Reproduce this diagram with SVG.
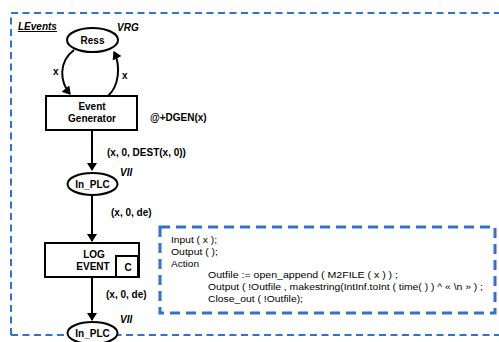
<svg xmlns="http://www.w3.org/2000/svg" width="499" height="342" viewBox="0 0 499 342">
<style>
.lbl{font-family:"Liberation Sans",Arial,sans-serif;font-weight:bold;font-size:10px;fill:#000}
.it{font-style:italic}
.code{font-family:"Liberation Sans",Arial,sans-serif;font-size:9.2px;fill:#000}
.node{fill:#fff;stroke:#000;stroke-width:2}
.conn{fill:none;stroke:#000;stroke-width:2}
</style>
<defs>
<marker id="ah" markerWidth="8" markerHeight="10" refX="7" refY="5" orient="auto" markerUnits="userSpaceOnUse" viewBox="0 0 8 10">
<path d="M0,0 L8,5 L0,10 Z" fill="#000"/>
</marker>
</defs>
<rect width="499" height="342" fill="#fff"/>
<g id="page">
<path d="M11,335 V13 H510 M11,335 H510" fill="none" stroke="#3272c9" stroke-width="2" stroke-dasharray="7,4.5"/>
<text class="lbl it" x="18" y="30" text-decoration="underline">LEvents</text>
</g>
<g id="connectors">
<path class="conn" d="M74,50 C58,62 60,82 70,94" marker-end="url(#ah)"/>
<path class="conn" d="M108,96 C119,86 121,66 114,52" marker-end="url(#ah)"/>
<path class="conn" d="M92,130 V170" marker-end="url(#ah)"/>
<path class="conn" d="M92,195 V241" marker-end="url(#ah)"/>
<path class="conn" d="M92,277 V320" marker-end="url(#ah)"/>
<text class="lbl" x="53" y="75">x</text>
<text class="lbl" x="122" y="79">x</text>
<text class="lbl" x="107" y="156">(x, 0, DEST(x, 0))</text>
<text class="lbl" x="111" y="216">(x, 0, de)</text>
<text class="lbl" x="106" y="298">(x, 0, de)</text>
</g>
<g id="ress">
<ellipse class="node" cx="92.5" cy="40" rx="25.5" ry="12"/>
<text class="lbl" x="92.5" y="43.5" text-anchor="middle">Ress</text>
<text class="lbl it" x="117" y="31">VRG</text>
</g>
<g id="event-generator">
<rect class="node" x="46" y="96" width="91" height="34"/>
<text class="lbl" x="92" y="110" text-anchor="middle">Event</text>
<text class="lbl" x="92" y="122" text-anchor="middle">Generator</text>
<text class="lbl" x="150" y="121">@+DGEN(x)</text>
</g>
<g id="in-plc-1">
<ellipse class="node" cx="92.5" cy="184" rx="25" ry="11"/>
<text class="lbl" x="92.5" y="187.5" text-anchor="middle">In_PLC</text>
<text class="lbl it" x="120" y="176">VII</text>
</g>
<g id="log-event">
<rect class="node" x="45" y="243" width="94" height="34"/>
<rect class="node" x="116" y="256" width="22" height="21" stroke-width="1.5"/>
<text class="lbl" x="94" y="258" text-anchor="middle">LOG</text>
<text class="lbl" x="93" y="270" text-anchor="middle">EVENT</text>
<text class="lbl" x="128" y="271" text-anchor="middle">C</text>
</g>
<g id="in-plc-2">
<ellipse class="node" cx="92.5" cy="333" rx="25" ry="11"/>
<text class="lbl" x="92.5" y="336.5" text-anchor="middle">In_PLC</text>
<text class="lbl it" x="120" y="323">VII</text>
</g>
<g id="code-box">
<rect x="160" y="227" width="335" height="86" fill="none" stroke="#3272c9" stroke-width="3" stroke-dasharray="10,6"/>
<text class="code" x="171" y="243" textLength="46" lengthAdjust="spacingAndGlyphs">Input ( x );</text>
<text class="code" x="171" y="255" textLength="47" lengthAdjust="spacingAndGlyphs">Output ( );</text>
<text class="code" x="171" y="267" textLength="28" lengthAdjust="spacingAndGlyphs">Action</text>
<text class="code" x="208" y="278" textLength="190" lengthAdjust="spacingAndGlyphs">Outfile := open_append ( M2FILE ( x ) ) ;</text>
<text class="code" x="208" y="290" textLength="275" lengthAdjust="spacingAndGlyphs">Output ( !Outfile , makestring(IntInf.toInt ( time( ) ) ^ « \n » ) ;</text>
<text class="code" x="208" y="302" textLength="95" lengthAdjust="spacingAndGlyphs">Close_out ( !Outfile);</text>
</g>
</svg>
